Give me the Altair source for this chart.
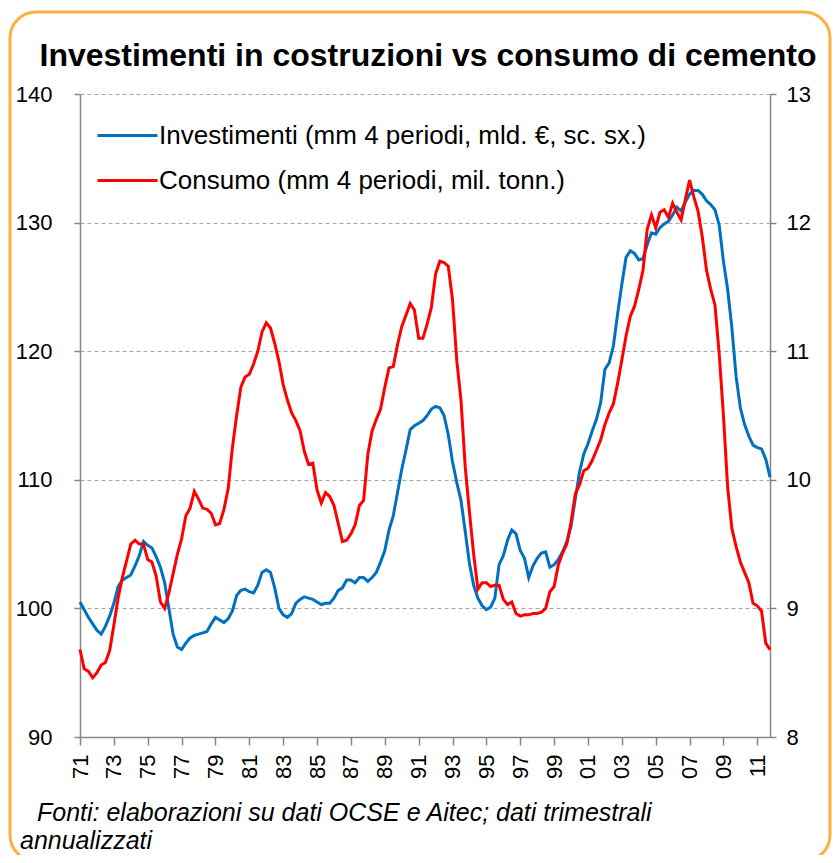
import altair as alt
import pandas as pd

# ---- data (quarterly, 1971Q1 - 2011Q4) ----
start_year = 1971
investimenti = [
    100.5, 99.9, 99.3, 98.8, 98.3, 98.0, 98.6, 99.4, 100.4, 101.7,
    102.2, 102.4, 102.6, 103.3, 104.1, 105.2, 104.9, 104.7, 104.0, 103.2,
    102.0, 100.0, 98.0, 97.0, 96.8, 97.3, 97.7, 97.9, 98.0, 98.1,
    98.2, 98.8, 99.3, 99.1, 98.9, 99.2, 99.8, 101.0, 101.4, 101.5,
    101.3, 101.2, 101.8, 102.8, 103.0, 102.8, 101.6, 100.0, 99.5, 99.3,
    99.6, 100.4, 100.7, 100.9, 100.8, 100.7, 100.5, 100.3, 100.4, 100.4,
    100.8, 101.4, 101.6, 102.2, 102.2, 102.0, 102.4, 102.4, 102.1, 102.4,
    102.8, 103.6, 104.5, 106.1, 107.2, 109.0, 110.8, 112.3, 113.9, 114.2,
    114.4, 114.6, 115.0, 115.5, 115.7, 115.6, 115.0, 113.5, 111.4, 109.8,
    108.4, 106.0, 103.5, 101.8, 100.8, 100.2, 99.9, 100.1, 100.8, 103.4,
    104.1, 105.3, 106.1, 105.8, 104.5, 103.9, 102.4, 103.3, 103.9, 104.3,
    104.4, 103.2, 103.4, 103.8, 104.4, 105.2, 106.4, 108.5, 110.6, 112.0,
    112.8, 113.8, 114.7, 116.0, 118.6, 119.1, 120.4, 122.9, 125.2, 127.3,
    127.8, 127.6, 127.1, 127.2, 128.3, 129.2, 129.1, 129.6, 129.9, 130.1,
    130.6, 131.2, 130.9, 131.6, 132.2, 132.5, 132.5, 132.2, 131.7, 131.4,
    131.0, 129.8, 127.0, 124.8, 121.8, 118.0, 115.6, 114.3, 113.4, 112.7,
    112.5, 112.4, 111.6, 110.2,
]
consumo = [
    8.68, 8.53, 8.51, 8.46, 8.50, 8.56, 8.58, 8.67, 8.87, 9.08,
    9.24, 9.37, 9.50, 9.53, 9.50, 9.50, 9.38, 9.36, 9.25, 9.05,
    9.00, 9.12, 9.27, 9.42, 9.54, 9.72, 9.78, 9.91, 9.85, 9.78,
    9.77, 9.74, 9.65, 9.66, 9.77, 9.93, 10.25, 10.50, 10.72, 10.80,
    10.82, 10.90, 11.00, 11.15, 11.22, 11.18, 11.06, 10.92, 10.74, 10.62,
    10.52, 10.46, 10.38, 10.22, 10.12, 10.13, 9.92, 9.82, 9.90, 9.87,
    9.80, 9.66, 9.52, 9.53, 9.58, 9.65, 9.80, 9.84, 10.20, 10.38,
    10.47, 10.55, 10.72, 10.87, 10.88, 11.05, 11.19, 11.28, 11.37, 11.32,
    11.10, 11.10, 11.21, 11.34, 11.60, 11.70, 11.69, 11.66, 11.40, 10.93,
    10.62, 10.10, 9.75, 9.42, 9.15, 9.20, 9.20, 9.17, 9.18, 9.18,
    9.07, 9.03, 9.05, 8.96, 8.94, 8.95, 8.95, 8.96, 8.96, 8.97,
    9.00, 9.13, 9.17, 9.34, 9.43, 9.50, 9.67, 9.89, 9.96, 10.07,
    10.09, 10.15, 10.23, 10.31, 10.43, 10.52, 10.59, 10.75, 10.93, 11.12,
    11.27, 11.35, 11.48, 11.63, 11.95, 12.06, 11.96, 12.08, 12.10, 12.04,
    12.15, 12.08, 12.02, 12.18, 12.33, 12.20, 12.09, 11.89, 11.63, 11.48,
    11.36, 10.98, 10.50, 9.94, 9.62, 9.48, 9.36, 9.28, 9.20, 9.04,
    9.02, 8.98, 8.73, 8.68,
]
tick_years = [1971, 1973, 1975, 1977, 1979, 1981, 1983, 1985, 1987, 1989, 1991,
              1993, 1995, 1997, 1999, 2001, 2003, 2005, 2007, 2009, 2011]
left_ticks = [90, 100, 110, 120, 130, 140]
right_ticks = [8, 9, 10, 11, 12, 13]
series_names = ["Investimenti (mm 4 periodi, mld. €, sc. sx.)",
                "Consumo (mm 4 periodi, mil. tonn.)"]
title_text = "Investimenti in costruzioni vs consumo di cemento"
note_line1 = "Fonti: elaborazioni su dati OCSE e Aitec; dati trimestrali"
note_line2 = "annualizzati"

# ---- tables ----
periods = [start_year + k / 4 for k in range(len(investimenti))]
df_inv = pd.DataFrame({"t": periods, "v": investimenti, "serie": series_names[0]})
df_con = pd.DataFrame({"t": periods, "v": consumo, "serie": series_names[1]})

FONT = "Liberation Sans"
BLUE = "#0070C0"
RED = "#FF0000"
W, H = 690, 643

x_enc = alt.X(
    "t:Q",
    scale=alt.Scale(domain=[periods[0], periods[-1]], nice=False, zero=False),
    axis=alt.Axis(
        values=tick_years,
        labelExpr="slice(toString(datum.value), 2)",
        labelAngle=270,
        labelPadding=9,
        tickSize=8,
        grid=False,
        title=None,
    ),
)

color_enc = alt.Color(
    "serie:N",
    scale=alt.Scale(domain=series_names, range=[BLUE, RED]),
    legend=alt.Legend(
        title=None,
        orient="none",
        legendX=16,
        legendY=10,
        symbolType="stroke",
        symbolSize=3600,
        symbolStrokeWidth=3,
        labelFontSize=26,
        labelFont=FONT,
        labelColor="black",
        labelOffset=0,
        rowPadding=-13,
        labelLimit=700,
    ),
)

inv_line = alt.Chart(df_inv).mark_line(strokeWidth=3).encode(
    x=x_enc,
    y=alt.Y(
        "v:Q",
        scale=alt.Scale(domain=[90, 140], nice=False, zero=False),
        axis=alt.Axis(
            orient="left",
            values=left_ticks,
            grid=True,
            gridDash=[4, 3],
            gridColor="#A6A6A6",
            gridWidth=1,
            tickSize=6,
            labelPadding=22,
            title=None,
        ),
    ),
    color=color_enc,
)

con_line = alt.Chart(df_con).mark_line(strokeWidth=3).encode(
    x=x_enc,
    y=alt.Y(
        "v:Q",
        scale=alt.Scale(domain=[8, 13], nice=False, zero=False),
        axis=alt.Axis(
            orient="right",
            values=right_ticks,
            grid=False,
            tickSize=6,
            labelPadding=10,
            title=None,
        ),
    ),
    color=color_enc,
)

one = pd.DataFrame({"k": [0]})

frame = alt.Chart(one).mark_rect(
    filled=False, stroke="#FBB040", strokeWidth=3, cornerRadius=26
).encode(
    x=alt.value(-70), x2=alt.value(750), y=alt.value(-82), y2=alt.value(767)
)

title_mark = alt.Chart(one).mark_text(
    text=title_text, font=FONT, fontSize=32, fontWeight="bold",
    align="center", baseline="alphabetic", color="black"
).encode(x=alt.value(W / 2 + 3), y=alt.value(-28))

note1 = alt.Chart(one).mark_text(
    text=note_line1, font=FONT, fontSize=25, fontStyle="italic",
    align="left", baseline="alphabetic", color="black"
).encode(x=alt.value(-43), y=alt.value(727))

note2 = alt.Chart(one).mark_text(
    text=note_line2, font=FONT, fontSize=25, fontStyle="italic",
    align="left", baseline="alphabetic", color="black"
).encode(x=alt.value(-60), y=alt.value(755))

chart = (
    alt.layer(frame, inv_line, con_line, title_mark, note1, note2)
    .resolve_scale(y="independent")
    .properties(
        width=W,
        height=H,
        autosize=alt.AutoSizeParams(type="none"),
        padding={"left": 72, "top": 86, "right": 62, "bottom": 118},
        background="white",
    )
    .configure_view(stroke=None)
    .configure_axis(
        labelFont=FONT,
        labelFontSize=22,
        labelColor="black",
        domainColor="#868686",
        domainWidth=1.5,
        tickColor="#868686",
        tickWidth=1.5,
    )
)

chart.save("out.html", embed_options={"renderer": "svg", "actions": False})
